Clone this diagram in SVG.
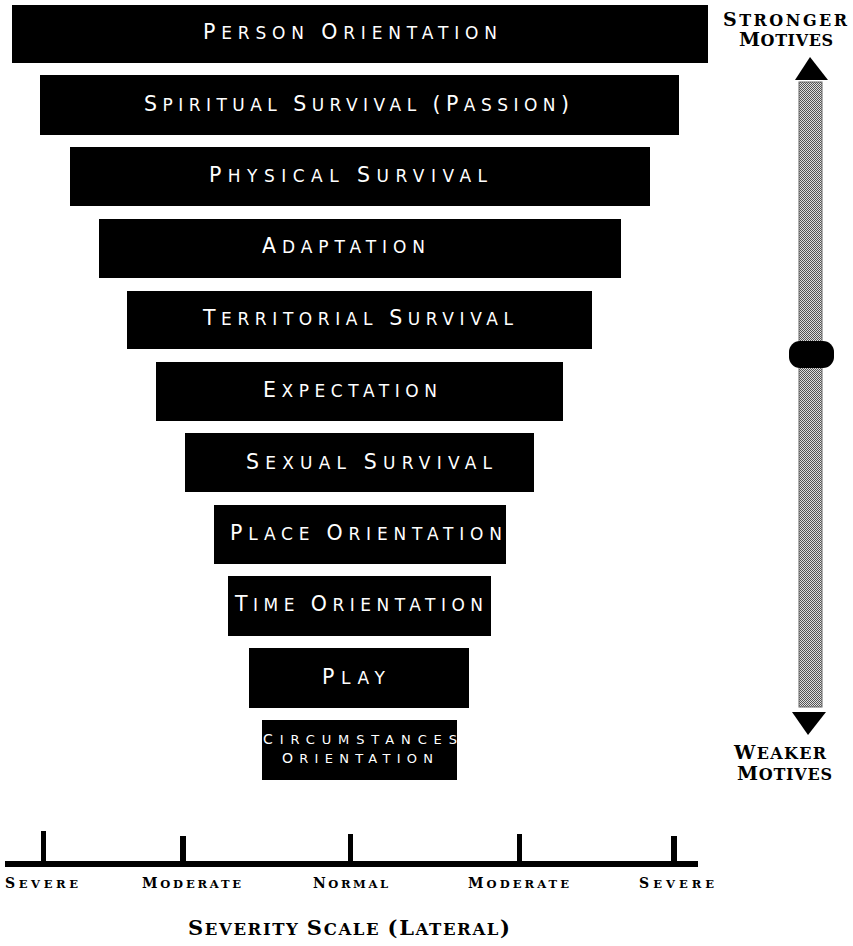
<svg xmlns="http://www.w3.org/2000/svg" width="853" height="946" viewBox="0 0 853 946">
<defs>
<style>
.bar{fill:#000}
.lbl{font-family:"DejaVu Sans","Liberation Sans",Arial,sans-serif;font-size:17px;fill:#fff}
.lbl .b{font-size:20.5px}
.sm{font-family:"DejaVu Sans","Liberation Sans",Arial,sans-serif;font-size:13px;fill:#fff}
.sm .b{font-size:14px}
.cp{font-family:"DejaVu Serif","Liberation Serif",serif;font-weight:bold;fill:#000}
.side{font-size:16px}
.side .b{font-size:19px}
.tick{font-size:11.5px}
.tick .b{font-size:14px}
.title{font-size:16.5px}
.title .b{font-size:21px}
</style>
<pattern id="dots" width="2" height="2" patternUnits="userSpaceOnUse">
<rect width="2" height="2" fill="#e0e0e0"/>
<rect width="1" height="1" fill="#555"/>
<rect x="1" y="1" width="1" height="1" fill="#555"/>
</pattern>
</defs>
<rect width="853" height="946" fill="#fff"/>

<g id="person-orientation">
<rect class="bar" x="12" y="5" width="696" height="58"/>
<text class="lbl" x="203" y="39" textLength="294" lengthAdjust="spacing"><tspan class="b">P</tspan>ERSON <tspan class="b">O</tspan>RIENTATION</text>
</g>
<g id="spiritual-survival">
<rect class="bar" x="40" y="75" width="639" height="60"/>
<text class="lbl" x="144" y="111" textLength="425" lengthAdjust="spacing"><tspan class="b">S</tspan>PIRITUAL <tspan class="b">S</tspan>URVIVAL <tspan class="b">(P</tspan>ASSION<tspan class="b">)</tspan></text>
</g>
<g id="physical-survival">
<rect class="bar" x="70" y="147" width="580" height="59"/>
<text class="lbl" x="209" y="182" textLength="278" lengthAdjust="spacing"><tspan class="b">P</tspan>HYSICAL <tspan class="b">S</tspan>URVIVAL</text>
</g>
<g id="adaptation">
<rect class="bar" x="99" y="219" width="522" height="59"/>
<text class="lbl" x="262" y="253" textLength="163" lengthAdjust="spacing"><tspan class="b">A</tspan>DAPTATION</text>
</g>
<g id="territorial-survival">
<rect class="bar" x="127" y="291" width="465" height="58"/>
<text class="lbl" x="203" y="325" textLength="310" lengthAdjust="spacing"><tspan class="b">T</tspan>ERRITORIAL <tspan class="b">S</tspan>URVIVAL</text>
</g>
<g id="expectation">
<rect class="bar" x="156" y="362" width="407" height="59"/>
<text class="lbl" x="263" y="397" textLength="174" lengthAdjust="spacing"><tspan class="b">E</tspan>XPECTATION</text>
</g>
<g id="sexual-survival">
<rect class="bar" x="185" y="433" width="349" height="59"/>
<text class="lbl" x="246" y="469" textLength="246" lengthAdjust="spacing"><tspan class="b">S</tspan>EXUAL <tspan class="b">S</tspan>URVIVAL</text>
</g>
<g id="place-orientation">
<rect class="bar" x="214" y="505" width="292" height="59"/>
<text class="lbl" x="230" y="540" textLength="272" lengthAdjust="spacing"><tspan class="b">P</tspan>LACE <tspan class="b">O</tspan>RIENTATION</text>
</g>
<g id="time-orientation">
<rect class="bar" x="228" y="576" width="263" height="60"/>
<text class="lbl" x="235" y="611" textLength="248" lengthAdjust="spacing"><tspan class="b">T</tspan>IME <tspan class="b">O</tspan>RIENTATION</text>
</g>
<g id="play">
<rect class="bar" x="249" y="648" width="220" height="60"/>
<text class="lbl" x="322" y="684" textLength="63" lengthAdjust="spacing"><tspan class="b">P</tspan>LAY</text>
</g>
<g id="circumstances-orientation">
<rect class="bar" x="262" y="720" width="195" height="60"/>
<text class="sm" x="263" y="744" textLength="194" lengthAdjust="spacing"><tspan class="b">C</tspan>IRCUMSTANCES</text>
<text class="sm" x="282" y="763" textLength="151" lengthAdjust="spacing"><tspan class="b">O</tspan>RIENTATION</text>
</g>

<g id="connectors">
<rect x="799" y="82" width="23" height="625" fill="url(#dots)" stroke="#666" stroke-width="1"/>
<polygon points="810,57 795,80 828,80" fill="#000"/>
<polygon points="792,712 826,712 808,735" fill="#000"/>
</g>

<g id="motive-knob">
<rect x="789" y="341" width="45" height="27" rx="11" ry="11" fill="#000"/>
</g>

<g id="stronger-motives">
<text class="cp side" x="723" y="26" textLength="124" lengthAdjust="spacing"><tspan class="b">S</tspan>TRONGER</text>
<text class="cp side" x="739" y="46" textLength="94" lengthAdjust="spacing"><tspan class="b">M</tspan>OTIVES</text>
</g>
<g id="weaker-motives">
<text class="cp side" x="734" y="759" textLength="92" lengthAdjust="spacing"><tspan class="b">W</tspan>EAKER</text>
<text class="cp side" x="737" y="780" textLength="95" lengthAdjust="spacing"><tspan class="b">M</tspan>OTIVES</text>
</g>

<g id="severity-scale">
<rect x="5" y="861" width="693" height="6" fill="#000"/>
<rect x="41" y="831" width="5" height="31" fill="#000"/>
<rect x="180" y="836" width="6" height="26" fill="#000"/>
<rect x="348" y="834" width="5" height="28" fill="#000"/>
<rect x="517" y="834" width="5" height="28" fill="#000"/>
<rect x="671" y="836" width="6" height="26" fill="#000"/>
<text class="cp tick" x="5" y="888" textLength="73" lengthAdjust="spacing"><tspan class="b">S</tspan>EVERE</text>
<text class="cp tick" x="142" y="888" textLength="99" lengthAdjust="spacing"><tspan class="b">M</tspan>ODERATE</text>
<text class="cp tick" x="313" y="888" textLength="75" lengthAdjust="spacing"><tspan class="b">N</tspan>ORMAL</text>
<text class="cp tick" x="468" y="888" textLength="101" lengthAdjust="spacing"><tspan class="b">M</tspan>ODERATE</text>
<text class="cp tick" x="639" y="888" textLength="75" lengthAdjust="spacing"><tspan class="b">S</tspan>EVERE</text>
<text class="cp title" x="188" y="935" textLength="322" lengthAdjust="spacing"><tspan class="b">S</tspan>EVERITY <tspan class="b">S</tspan>CALE <tspan class="b">(L</tspan>ATERAL<tspan class="b">)</tspan></text>
</g>
</svg>
